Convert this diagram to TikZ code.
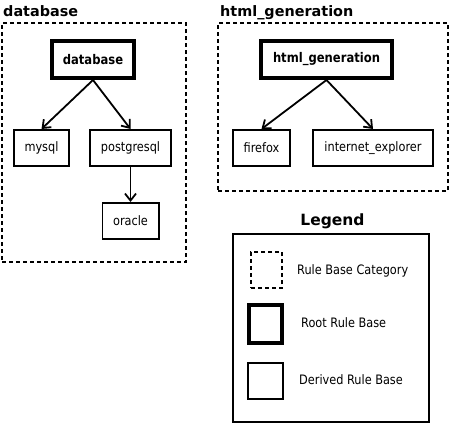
\documentclass[tikz,border=0pt]{standalone}
\usepackage{fontspec}
\setmainfont{DejaVu Sans}
\newfontfamily\narrowsans[FakeStretch=0.87]{DejaVu Sans}
\usetikzlibrary{arrows.meta}

\begin{document}
\begin{tikzpicture}[x=1pt,y=-1pt,
  every node/.style={inner sep=0pt,font=\narrowsans\fontsize{13}{15}\selectfont},
  category/.style={draw,line width=2pt,dash pattern=on 4pt off 3pt},
  rootbase/.style={draw,line width=4pt,font=\narrowsans\fontsize{13.3}{15}\selectfont\bfseries},
  derived/.style={draw,line width=1.6pt},
  heading/.style={font=\fontsize{14.4}{16}\selectfont\bfseries},
  link/.style={line width=1.8pt,-{Straight Barb[length=7pt,width=11pt,line width=1.8pt]}}]
\useasboundingbox (0,0) rectangle (450,424);

\node (dbtitle) at (3,16) [heading,anchor=base west] {database};
\node (dbcat) at (94,142.5) [category,minimum width=184pt,minimum height=239pt] {};
\node (dbroot) at (93,59.5) [rootbase,minimum width=82pt,minimum height=37pt] {database};
\node (mysql) at (41.5,148) [derived,minimum width=55.4pt,minimum height=36.4pt] {mysql};
\node (postgresql) at (130.5,148) [derived,minimum width=81.4pt,minimum height=36.4pt] {postgresql};
\node (oracle) at (130.5,221) [derived,minimum width=56.4pt,minimum height=36.4pt] {oracle};

\node (htmltitle) at (220,16) [heading,anchor=base west] {html\_generation};
\node (htmlcat) at (333,107) [category,minimum width=230pt,minimum height=168pt] {};
\node (htmlroot) at (326.5,59.5) [rootbase,minimum width=131pt,minimum height=37pt] {html\_generation};
\node (firefox) at (261.5,148) [derived,minimum width=57.4pt,minimum height=36.4pt] {firefox};
\node (explorer) at (373,148) [derived,minimum width=120.4pt,minimum height=36.4pt] {internet\_explorer};

\draw[link] (dbroot.south) -- (mysql.north);
\draw[link] (dbroot.south) -- (postgresql.north);
\draw[link] (postgresql.south) -- (oracle.north);
\draw[link] (htmlroot.south) -- (firefox.north);
\draw[link] (htmlroot.south) -- (explorer.north);

\node (legtitle) at (332.5,221.5) [font=\fontsize{15.5}{17}\selectfont\bfseries] {Legend};
\node (legend) at (331,328) [draw,line width=1.6pt,minimum width=196.4pt,minimum height=188.4pt] {};
\node (legcat) at (266.5,270) [category,minimum width=31pt,minimum height=36pt] {};
\node (legroot) at (265.5,324) [draw,line width=4pt,minimum width=33pt,minimum height=38pt] {};
\node (legderived) at (265.5,381) [derived,minimum width=35.4pt,minimum height=36.4pt] {};
\node (catlabel) at (297,271) [anchor=west] {Rule Base Category};
\node (rootlabel) at (301,323) [anchor=west] {Root Rule Base};
\node (derivedlabel) at (299,380) [anchor=west] {Derived Rule Base};
\end{tikzpicture}
\end{document}
